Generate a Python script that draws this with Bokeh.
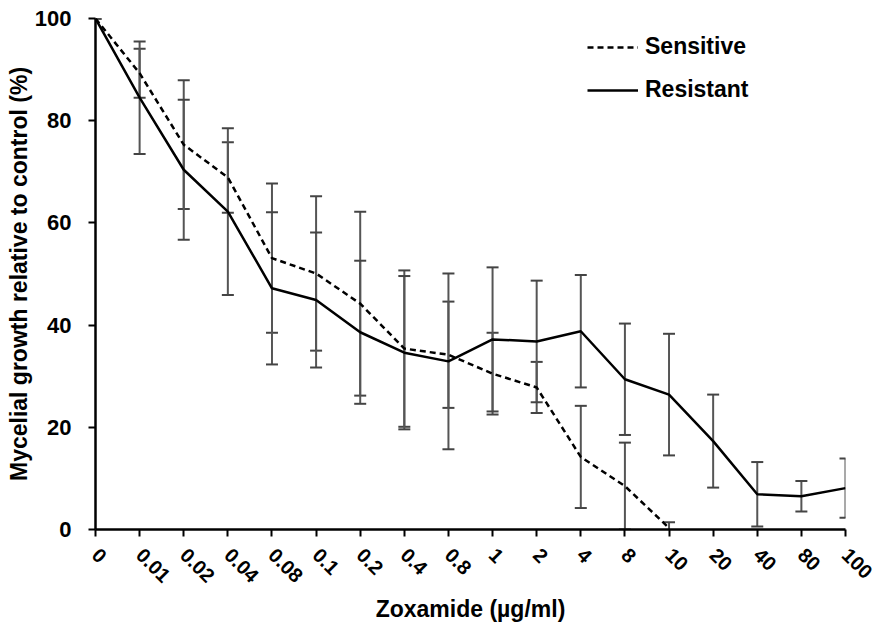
import math
from bokeh.plotting import figure
from bokeh.models import (ColumnDataSource, Range1d, FixedTicker, Whisker, TeeHead,
                          Legend, LegendItem)
from bokeh.embed import file_html
from bokeh.resources import INLINE

categories = ["0", "0.01", "0.02", "0.04", "0.08", "0.1", "0.2", "0.4", "0.8",
              "1", "2", "4", "8", "10", "20", "40", "80", "100"]
sensitive_mean = [100, 89.3, 75.3, 68.9, 53.1, 50.1, 44.2, 35.4, 34.2, 30.5, 27.8, 14.2, 8.5, 0.3]
sensitive_sd = [0, 4.8, 12.6, 6.9, 14.6, 15.1, 18.0, 15.3, 10.4, 8.0, 5.0, 10.0, 8.5, 1.1]
resistant_mean = [100, 84.5, 70.4, 62.2, 47.2, 44.9, 38.6, 34.6, 32.9, 37.2, 36.8, 38.8,
                  29.4, 26.4, 17.3, 6.9, 6.5, 8.1]
resistant_sd = [0, 11.0, 13.7, 16.3, 14.9, 13.2, 14.0, 15.0, 17.2, 14.1, 11.9, 11.0,
                10.9, 11.9, 9.1, 6.3, 3.0, 5.8]

FONT = "Liberation Sans"

idx = list(range(len(categories)))
s_x = idx[:len(sensitive_mean)]
src_s = ColumnDataSource(dict(
    x=s_x, y=sensitive_mean,
    lo=[m - s for m, s in zip(sensitive_mean, sensitive_sd)],
    hi=[m + s for m, s in zip(sensitive_mean, sensitive_sd)]))
src_r = ColumnDataSource(dict(
    x=idx, y=resistant_mean,
    lo=[m - s for m, s in zip(resistant_mean, resistant_sd)],
    hi=[m + s for m, s in zip(resistant_mean, resistant_sd)]))

p = figure(width=876, height=630, output_backend="svg", toolbar_location=None,
           x_range=Range1d(0, len(categories) - 1), y_range=Range1d(0, 100),
           min_border_left=95, min_border_right=31, min_border_top=18, min_border_bottom=101)
p.outline_line_color = None
p.xgrid.visible = False
p.ygrid.visible = False
p.background_fill_color = "white"

# error bars
for src in (src_s, src_r):
    w = Whisker(source=src, base="x", upper="hi", lower="lo", dimension="height",
                line_color="#555555", line_width=2,
                upper_head=TeeHead(size=12, line_color="#444444", line_width=2),
                lower_head=TeeHead(size=12, line_color="#444444", line_width=2))
    w.level = "underlay"
    p.add_layout(w)

r_s = p.line("x", "y", source=src_s, line_color="black", line_width=2.5, line_dash="6 4")
r_r = p.line("x", "y", source=src_r, line_color="black", line_width=2.5)

# axes
p.xaxis.ticker = FixedTicker(ticks=idx)
p.xaxis.major_label_overrides = {i: c for i, c in enumerate(categories)}
p.xaxis.major_label_orientation = -math.pi / 4
p.yaxis.ticker = FixedTicker(ticks=[0, 20, 40, 60, 80, 100])
for ax in (p.xaxis[0], p.yaxis[0]):
    ax.axis_line_width = 2.5
    ax.axis_line_color = "black"
    ax.major_tick_line_width = 2
    ax.major_tick_line_color = "black"
    ax.major_tick_in = 0
    ax.major_tick_out = 7
    ax.minor_tick_line_color = None
    ax.major_label_text_font = FONT
    ax.major_label_text_font_style = "bold"
    ax.major_label_text_color = "black"
    ax.axis_label_text_font = FONT
    ax.axis_label_text_font_style = "bold"
    ax.axis_label_text_font_size = "23px"
    ax.axis_label_text_color = "black"
p.xaxis.major_label_text_font_size = "20px"
p.yaxis.major_label_text_font_size = "22px"
p.xaxis.major_label_standoff = 15
p.yaxis.major_label_standoff = 17
p.xaxis.axis_label = "Zoxamide (µg/ml)"
p.yaxis.axis_label = "Mycelial growth relative to control (%)"
p.xaxis.axis_label_standoff = 4
p.yaxis.axis_label_standoff = 0

legend = Legend(items=[LegendItem(label="Sensitive", renderers=[r_s]),
                       LegendItem(label="Resistant", renderers=[r_r])],
                location=(492, 426), orientation="vertical")
legend.border_line_color = None
legend.background_fill_alpha = 0
legend.padding = 0
legend.margin = 0
legend.spacing = 16
legend.glyph_width = 51
legend.glyph_height = 24
legend.label_standoff = 7
legend.label_text_font = FONT
legend.label_text_font_style = "bold"
legend.label_text_font_size = "23px"
legend.label_text_color = "black"
p.add_layout(legend)

open("out.html", "w").write(file_html(p, INLINE))
